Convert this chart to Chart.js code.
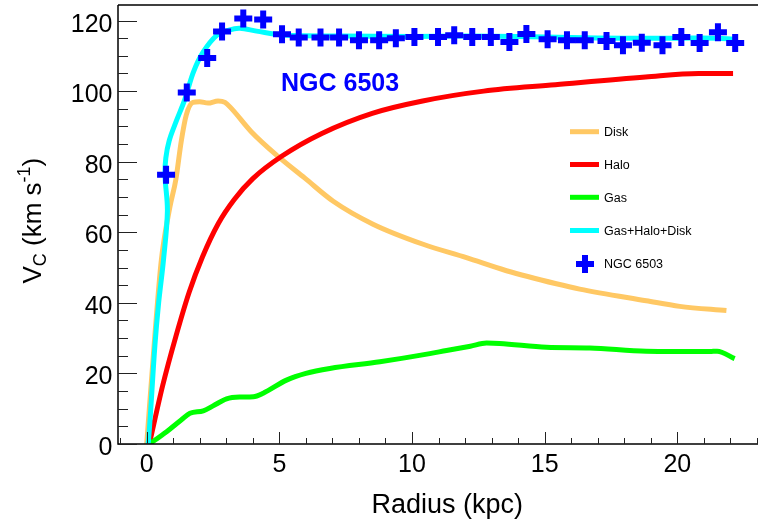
<!DOCTYPE html>
<html>
<head>
<meta charset="utf-8">
<script src="https://cdn.jsdelivr.net/npm/chart.js@4.4.0/dist/chart.umd.min.js"></script>
<style>
html, body { margin: 0; padding: 0; background: #fff; }
canvas { display: block; }
</style>
</head>
<body>
<canvas id="rc" width="759" height="525"></canvas>
<script>
// NGC 6503 rotation curve (radius in kpc, V in km/s)
const diskR = [0, 0.3, 0.55, 0.87, 1.1, 1.3, 1.49, 1.74, 2.0, 2.31, 2.69, 2.95, 3.19, 3.94, 4.95, 5.95, 7.03, 8.53, 10.42, 12.05, 13.56, 15.44, 16.32, 18.83, 20.09, 21.85];
const diskV = [0, 30, 52, 67, 75, 85.7, 93.2, 96.8, 97.0, 96.6, 97.2, 96.8, 95.1, 88.5, 81.5, 75.4, 68.8, 62.3, 56.6, 52.8, 49.1, 45.4, 43.9, 40.6, 39.0, 37.8];

const haloR = [0.1, 0.6, 1.1, 1.6, 2.1, 2.7, 3.3, 4.0, 5.1, 6.6, 8.5, 10.4, 12.7, 15.4, 18.8, 20.8, 22.1];
const haloV = [0, 16.5, 30.5, 43, 53, 62.5, 69.3, 75.2, 81.6, 88, 93.7, 97.2, 100.0, 101.8, 104.0, 105.0, 105.0];

const gasR = [0.1, 0.75, 1.3, 1.63, 2.13, 2.5, 3.01, 3.5, 4.02, 4.39, 5.27, 6.0, 6.9, 8.79, 10.67, 11.3, 12.2, 12.81, 13.3, 15.07, 16.7, 18.83, 21.22, 21.5, 22.16];
const gasV = [0, 3.5, 6.8, 8.7, 9.4, 10.8, 12.8, 13.3, 13.4, 14.4, 18.1, 20.0, 21.4, 23.3, 25.6, 26.5, 27.7, 28.6, 28.5, 27.4, 27.2, 26.3, 26.2, 26.3, 24.2];

const totalR = [0, 0.06, 0.31, 0.45, 0.63, 0.78, 0.69, 0.72, 0.85, 1.11, 1.43, 1.76, 2.13, 2.64, 3.1, 3.51, 4.14, 5.15, 7.28, 10, 12, 14, 16, 18, 20, 21.5, 22.1];
const totalV = [0, 0.3, 28, 40, 52, 66, 76, 81, 86, 91.4, 97.5, 105.4, 111.1, 115.8, 117.3, 117.8, 117.0, 115.9, 115.6, 115.5, 115.6, 115.5, 115.2, 115.0, 115.0, 115.0, 114.7];

const obsR = [0.73, 1.51, 2.28, 2.84, 3.64, 4.39, 5.10, 5.73, 6.55, 7.25, 8.00, 8.76, 9.39, 10.09, 10.98, 11.59, 12.27, 12.97, 13.67, 14.31, 15.11, 15.84, 16.51, 17.33, 17.95, 18.66, 19.44, 20.15, 20.84, 21.53, 22.18];
const obsV = [76.3, 99.6, 109.4, 116.9, 120.6, 120.3, 116.1, 115.2, 115.2, 115.2, 114.4, 114.4, 115.0, 115.3, 115.3, 115.8, 115.3, 115.3, 113.9, 116.2, 114.7, 114.4, 114.4, 114.2, 113.0, 113.7, 113.0, 115.3, 113.6, 116.7, 113.6];

const xTicks = [0, 5, 10, 15, 20];
const yTicks = [0, 20, 40, 60, 80, 100, 120];

const FONT = '"Liberation Sans", Arial, Helvetica, sans-serif';

function pts(xs, ys) {
    return xs.map((x, i) => ({ x: x, y: ys[i] }));
}

// ROOT-like frame: inward ticks, labels, titles, legend
const rootFrame = {
    id: 'rootFrame',
    afterDraw(chart) {
        const c = chart.ctx;
        const a = chart.chartArea;
        const sx = chart.scales.x, sy = chart.scales.y;
        c.save();

        c.strokeStyle = '#000';
        c.lineWidth = 1.5;
        c.beginPath();
        c.moveTo(a.left, a.top); c.lineTo(a.right, a.top);
        c.moveTo(a.left, a.top); c.lineTo(a.left, a.bottom); c.lineTo(a.right, a.bottom);
        c.stroke();

        c.lineWidth = 1;
        c.strokeStyle = '#222';
        c.beginPath();
        for (let v = Math.ceil(sx.min); v <= sx.max; v++) {
            const px = Math.round(sx.getPixelForValue(v)) + 0.5;
            const len = v % 5 === 0 ? 12 : 6;
            c.moveTo(px, a.bottom); c.lineTo(px, a.bottom - len);
        }
        for (let v = 0; v <= sy.max; v += 5) {
            const py = Math.round(sy.getPixelForValue(v)) + 0.5;
            const len = v % 20 === 0 ? 19 : 10;
            c.moveTo(a.left, py); c.lineTo(a.left + len, py);
        }
        c.stroke();

        c.fillStyle = '#000';
        c.font = '25px ' + FONT;
        c.textBaseline = 'alphabetic';
        c.textAlign = 'center';
        xTicks.forEach(v => c.fillText(String(v), sx.getPixelForValue(v), 472));
        c.textAlign = 'right';
        yTicks.forEach(v => c.fillText(String(v), 112.5, sy.getPixelForValue(v) + 11));

        // axis titles
        c.font = '27px ' + FONT;
        c.textAlign = 'right';
        c.fillText('Radius (kpc)', 523, 513);

        c.save();
        c.translate(40.5, 283.5);
        c.rotate(-Math.PI / 2);
        c.textAlign = 'left';
        let x = 0;
        const big = '26px ' + FONT, small = '18px ' + FONT;
        c.font = big; c.fillText('V', x, 0); x += c.measureText('V').width;
        c.font = small; c.fillText('C', x, 5); x += c.measureText('C').width;
        c.font = big; c.fillText(' (km s', x, 0); x += c.measureText(' (km s').width;
        c.font = small; c.fillText('-1', x, -11); x += c.measureText('-1').width;
        c.font = big; c.fillText(')', x, 0);
        c.restore();

        // galaxy label
        c.fillStyle = '#0000ff';
        c.font = 'bold 25px ' + FONT;
        c.textAlign = 'left';
        c.fillText('NGC 6503', 281, 91);

        // legend
        const rows = [131.7, 164.5, 197.3, 230.5, 264];
        const order = [4, 3, 2, 1, 0];
        c.font = '12.5px ' + FONT;
        c.textBaseline = 'middle';
        order.forEach((di, i) => {
            const ds = chart.data.datasets[di];
            const y = rows[i];
            if (ds.pointStyle === 'cross') {
                c.strokeStyle = ds.borderColor;
                c.lineWidth = ds.borderWidth;
                c.beginPath();
                c.moveTo(576, y); c.lineTo(594, y);
                c.moveTo(585, y - 9); c.lineTo(585, y + 9);
                c.stroke();
            } else {
                c.fillStyle = ds.borderColor;
                c.fillRect(570, y - 2.5, 29, 5);
            }
            c.fillStyle = '#000';
            c.fillText(ds.label, 604, y + 1);
        });

        c.restore();
    }
};

const lineDs = (label, xs, ys, color, order, mode) => ({
    label: label,
    data: pts(xs, ys),
    borderColor: color,
    backgroundColor: color,
    borderWidth: 5,
    pointRadius: 0,
    fill: false,
    order: order,
    tension: mode ? 0 : 0.35,
    cubicInterpolationMode: mode || 'default'
});

new Chart(document.getElementById('rc'), {
    type: 'line',
    data: {
        datasets: [
            {
                label: 'NGC 6503',
                data: pts(obsR, obsV),
                showLine: false,
                pointStyle: 'cross',
                pointRadius: 9,
                pointHoverRadius: 9,
                borderColor: '#0000ff',
                backgroundColor: '#0000ff',
                borderWidth: 6,
                order: 0
            },
            lineDs('Gas+Halo+Disk', totalR, totalV, '#00ffff', 1),
            lineDs('Gas', gasR, gasV, '#00ff00', 2, 'monotone'),
            lineDs('Halo', haloR, haloV, '#ff0000', 3, 'monotone'),
            lineDs('Disk', diskR, diskV, '#ffc864', 4, 'monotone')
        ]
    },
    options: {
        responsive: false,
        animation: false,
        devicePixelRatio: 1,
        layout: { autoPadding: false, padding: { left: 118, top: 5, right: 1, bottom: 81 } },
        plugins: { legend: { display: false }, tooltip: { enabled: false } },
        scales: {
            x: { type: 'linear', min: -1.082, max: 23.04, display: false },
            y: { type: 'linear', min: 0, max: 124.4, display: false }
        }
    },
    plugins: [rootFrame]
});
</script>
</body>
</html>
